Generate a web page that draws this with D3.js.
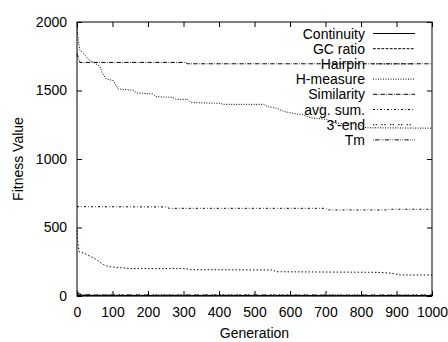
<!DOCTYPE html>
<html><head><meta charset="utf-8">
<script src="https://cdn.jsdelivr.net/npm/d3@7"></script>
<style>body{margin:0;background:#fff}text{font-family:"Liberation Sans",Arial,Helvetica,sans-serif;font-size:14px;fill:#000}</style>
</head><body>
<svg id="c" width="448" height="342"></svg>
<script>
const seriesNames = ["Continuity","GC ratio","Hairpin","H-measure","Similarity","avg. sum.","3'-end","Tm"];
const xTicks = [0,100,200,300,400,500,600,700,800,900,1000];
const yTicks = [0,500,1000,1500,2000];
// [generation, value]
const continuity = [[0,6],[20,4],[1000,3]];
const gcRatio = [[0,2],[1000,2]];
const hairpin = [[0,480],[2,396],[6,323],[21,311],[35,292],[49,275],[63,250],[77,226],[91,214],[119,207],[152,200],[307,200],[321,192],[552,190],[560,177],[848,173],[890,165],[910,153],[1000,153]];
const hMeasure = [[0,2000],[2,1900],[5,1840],[8,1796],[22,1759],[35,1720],[51,1700],[65,1674],[72,1625],[82,1585],[102,1572],[116,1511],[158,1502],[169,1482],[213,1475],[222,1455],[269,1450],[279,1435],[312,1435],[321,1411],[403,1407],[412,1399],[525,1399],[539,1382],[562,1370],[586,1345],[600,1338],[640,1320],[660,1300],[700,1290],[730,1262],[790,1255],[815,1228],[1000,1225]];
const similarity = [[0,1770],[8,1705],[305,1705],[312,1695],[1000,1695]];
const avgSum = [[0,652],[250,650],[260,640],[700,640],[710,628],[870,628],[880,633],[1000,633]];
const threeEnd = [[0,12],[30,9],[1000,8]];
const tm = [[0,40],[5,15],[40,6],[1000,5]];
const seriesData = [continuity,gcRatio,hairpin,hMeasure,similarity,avgSum,threeEnd,tm];
const dashes = [null,"2.8,1.4","1.4,2.1","1,1.5","4.2,1.4,0.7,1.4","2.1,2.1,0.7,2.1","1.4,1.4,1.4,4.2","0.7,1.4,4.2,1.4,0.7,1.4"];

const svg = d3.select("#c");
const L=77,R=432,T=22,B=296;
const x = d3.scaleLinear().domain([0,1000]).range([L,R]);
const y = d3.scaleLinear().domain([0,2000]).range([B,T]);

const line = d3.line().x(d=>x(d[0])).y(d=>y(d[1]));
seriesData.forEach((s,i)=>{
  svg.append("path").attr("d",line(s)).attr("fill","none").attr("stroke","#000")
    .attr("stroke-width",1).attr("stroke-dasharray",dashes[i]);
});

// axes (inward ticks, mirrored)
const xb = svg.append("g").attr("transform",`translate(0,${B})`)
  .call(d3.axisBottom(x).tickValues(xTicks).tickSize(-5).tickPadding(11).tickFormat(d3.format("d")));
const xt = svg.append("g").attr("transform",`translate(0,${T})`)
  .call(d3.axisTop(x).tickValues(xTicks).tickSize(-5).tickFormat(""));
const yl = svg.append("g").attr("transform",`translate(${L},0)`)
  .call(d3.axisLeft(y).tickValues(yTicks).tickSize(-5).tickPadding(10).tickFormat(d3.format("d")));
const yr = svg.append("g").attr("transform",`translate(${R},0)`)
  .call(d3.axisRight(y).tickValues(yTicks).tickSize(-5).tickFormat(""));
[xb,xt,yl,yr].forEach(g=>{
  g.select(".domain").remove();
  g.selectAll("line").attr("stroke","#000");
  g.selectAll("text").attr("fill","#000").style("font-size","14px").attr("font-family",null);
});
svg.append("rect").attr("x",L).attr("y",T).attr("width",R-L).attr("height",B-T)
  .attr("fill","none").attr("stroke","#000").attr("stroke-width",1);

svg.append("text").attr("x",(L+R)/2).attr("y",338).attr("text-anchor","middle").text("Generation");
svg.append("text").attr("transform",`translate(23,${(T+B)/2}) rotate(-90)`).attr("text-anchor","middle").text("Fitness Value");

// legend
seriesNames.forEach((n,i)=>{
  const ry = 33.5 + i*15.2;
  svg.append("text").attr("x",365).attr("y",ry+5).attr("text-anchor","end").text(n);
  svg.append("line").attr("x1",373).attr("x2",415).attr("y1",ry).attr("y2",ry)
    .attr("stroke","#000").attr("stroke-width",1).attr("stroke-dasharray",dashes[i]);
});
</script>
</body></html>
